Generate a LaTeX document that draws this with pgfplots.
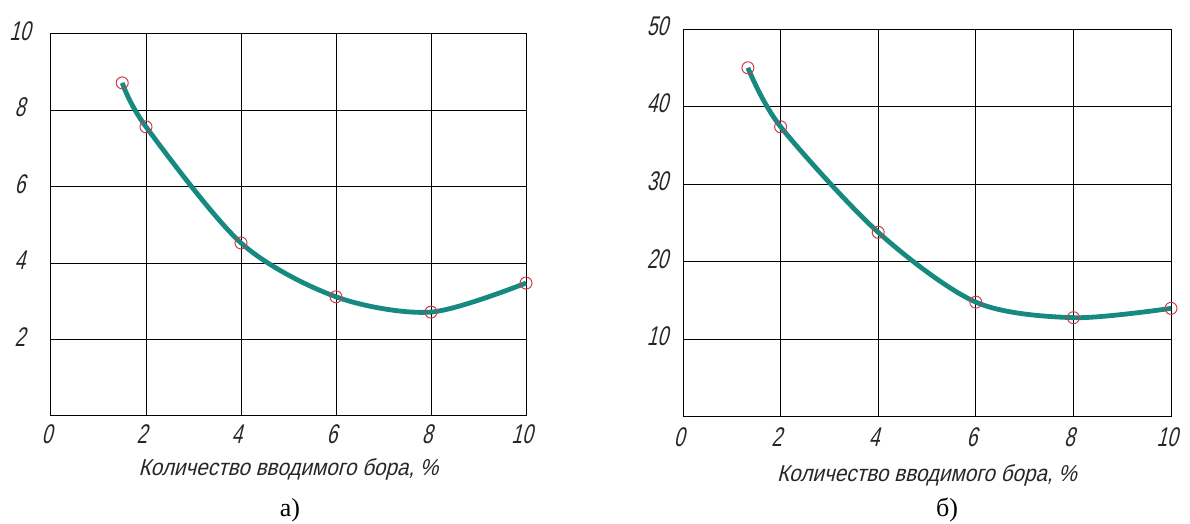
\documentclass[border=0pt]{standalone}
\usepackage{fontspec}
\setmainfont{Liberation Serif}
\newfontfamily\gostA{Liberation Sans}[FakeSlant=0.25,FakeStretch=0.7]
\newfontfamily\gostB{Liberation Sans}[FakeSlant=0.25,FakeStretch=0.9]
\usepackage{pgfplots}
\pgfplotsset{compat=1.18}
\definecolor{curve}{RGB}{22,138,128}
\definecolor{mk}{RGB}{205,60,75}
\pgfplotsset{panel/.style={
  scale only axis, anchor=south west,
  xmin=0, xmax=10, xtick={0,2,4,6,8,10},
  ymin=0,
  grid=major, grid style={black, line width=1pt},
  axis line style={black, line width=1pt},
  major tick length=0pt,
  ticklabel style={font=\gostA\fontsize{27}{27}\selectfont, text=black!85, inner sep=0pt},
  /pgf/number format/assume math mode=true,
  xlabel={Количество вводимого бора, \%},
  xlabel style={font=\gostB\fontsize{23}{23}\selectfont, text=black!85, at={(axis description cs:0.5,0)}, anchor=center, inner sep=0pt},
  clip=false,
}}
\begin{document}
\begin{tikzpicture}[x=1pt,y=1pt]
\useasboundingbox (0,0) rectangle (1190,524);
% panel a
\begin{axis}[panel, at={(51pt,108pt)}, width=475pt, height=382pt,
  ymax=10, ytick={2,4,6,8,10},
  yticklabel style={anchor=center, xshift=-31pt, yshift=3pt},
  xticklabel style={anchor=center, yshift=-18pt, xshift=-4pt},
  xlabel style={yshift=-53pt}]
\addplot[curve, line width=4.8pt, smooth] coordinates {(1.5,8.72) (2,7.57) (4,4.53) (6,3.12) (8,2.72) (10,3.48)};
\addplot[only marks, mark=o, mark size=6pt, mark options={draw=mk, line width=1pt}] coordinates {(1.5,8.72) (2,7.57) (4,4.53) (6,3.12) (8,2.72) (10,3.48)};
\end{axis}
% panel b
\begin{axis}[panel, at={(683pt,107pt)}, width=488pt, height=388pt,
  ymax=50, ytick={10,20,30,40,50},
  yticklabel style={anchor=east, xshift=-15pt, yshift=3pt},
  xticklabel style={anchor=center, yshift=-20pt, xshift=-4pt},
  xlabel style={yshift=-58pt}]
\addplot[curve, line width=4.8pt, smooth] coordinates {(1.33,45.0) (2,37.4) (4,23.8) (6,14.8) (8,12.8) (10,14.0)};
\addplot[only marks, mark=o, mark size=6pt, mark options={draw=mk, line width=1pt}] coordinates {(1.33,45.0) (2,37.4) (4,23.8) (6,14.8) (8,12.8) (10,14.0)};
\end{axis}
\node[font=\fontsize{26}{26}\selectfont, inner sep=0pt] at (290,14) {а)};
\node[font=\fontsize{26}{26}\selectfont, inner sep=0pt] at (947,14) {б)};
\end{tikzpicture}
\end{document}
